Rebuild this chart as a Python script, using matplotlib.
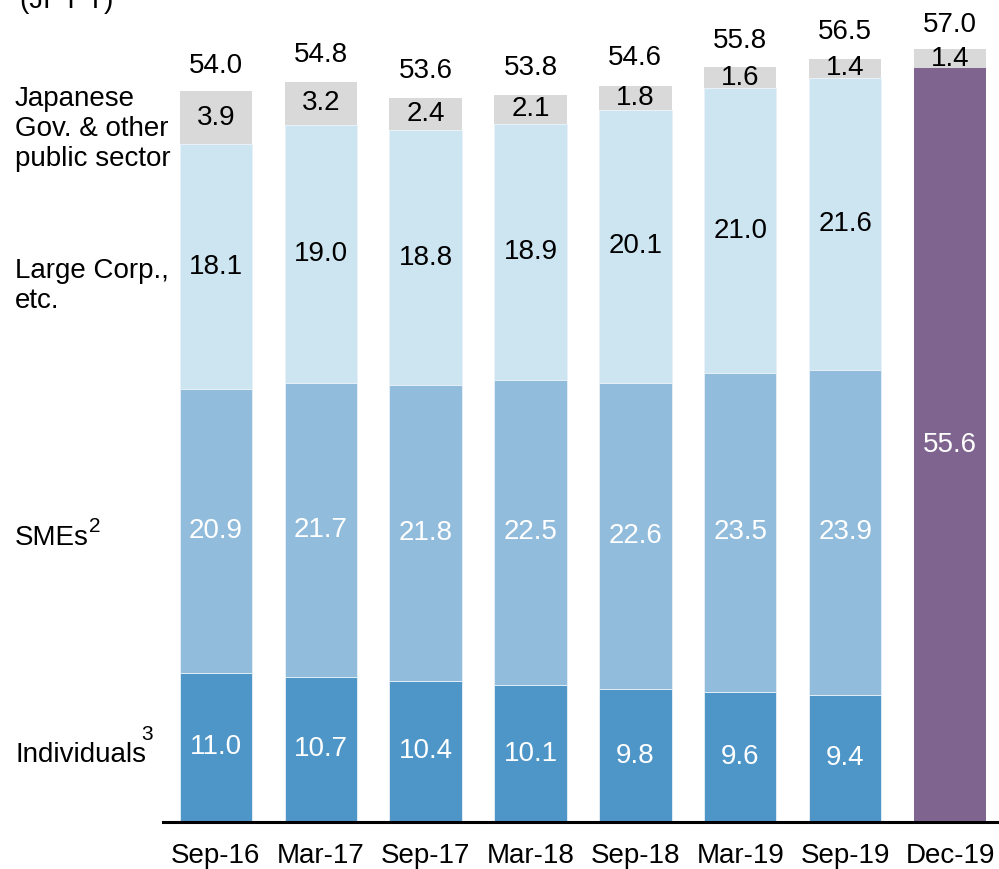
import numpy as np
import matplotlib.pyplot as plt

plt.rcParams['font.family'] = ['Liberation Sans', 'DejaVu Sans']

periods = ['Sep-16', 'Mar-17', 'Sep-17', 'Mar-18', 'Sep-18', 'Mar-19', 'Sep-19', 'Dec-19']
individuals = [11.0, 10.7, 10.4, 10.1, 9.8, 9.6, 9.4]
smes = [20.9, 21.7, 21.8, 22.5, 22.6, 23.5, 23.9]
large_corp = [18.1, 19.0, 18.8, 18.9, 20.1, 21.0, 21.6]
gov = [3.9, 3.2, 2.4, 2.1, 1.8, 1.6, 1.4]
totals = [54.0, 54.8, 53.6, 53.8, 54.6, 55.8, 56.5, 57.0]
dec19_main = 55.6
dec19_gov = 1.4

c_ind = '#4f96c8'
c_sme = '#92bcdb'
c_lc = '#cde4f1'
c_gov = '#d9d9d9'
c_dec = '#7f648f'
fs = 20

fig = plt.figure(figsize=(9.99, 8.69), dpi=100)
ax = fig.add_axes([0.163, 1 - 822 / 869, 0.837, 822 / 869])

x = np.arange(len(individuals))
w = 0.69
ind = np.array(individuals)
sme = np.array(smes)
lc = np.array(large_corp)
gv = np.array(gov)

ec = dict(edgecolor='#e8f1f8', linewidth=0.6)
ax.bar(x, ind, w, color=c_ind, **ec)
ax.bar(x, sme, w, bottom=ind, color=c_sme, **ec)
ax.bar(x, lc, w, bottom=ind + sme, color=c_lc, **ec)
ax.bar(x, gv, w, bottom=ind + sme + lc, color=c_gov, linewidth=0)

xd = len(individuals)
ax.bar(xd, dec19_main, w, color=c_dec, linewidth=0)
ax.bar(xd, dec19_gov, w, bottom=dec19_main, color=c_gov, linewidth=0)

for i in range(len(individuals)):
    ax.text(x[i], ind[i] / 2, f'{ind[i]:.1f}', ha='center', va='center', color='white', fontsize=fs)
    ax.text(x[i], ind[i] + sme[i] / 2, f'{sme[i]:.1f}', ha='center', va='center', color='white', fontsize=fs)
    ax.text(x[i], ind[i] + sme[i] + lc[i] / 2, f'{lc[i]:.1f}', ha='center', va='center', color='black', fontsize=fs)
    ax.text(x[i], ind[i] + sme[i] + lc[i] + gv[i] / 2, f'{gv[i]:.1f}', ha='center', va='center', color='black', fontsize=fs)
ax.text(xd, dec19_main / 2, f'{dec19_main:.1f}', ha='center', va='center', color='white', fontsize=fs)
ax.text(xd, dec19_main + dec19_gov / 2, f'{dec19_gov:.1f}', ha='center', va='center', color='black', fontsize=fs)

for i, t in enumerate(totals):
    ax.annotate(f'{t:.1f}', (i, t), xytext=(0, 8), textcoords='offset points',
                ha='center', va='bottom', fontsize=fs)

ax.set_xlim(-0.505, 7.467)
ax.set_ylim(0, 822 / 13.56)
ax.set_xticks(np.arange(len(periods)))
ax.set_xticklabels(periods, fontsize=fs)
ax.tick_params(axis='x', length=0, pad=15)
ax.set_yticks([])
for s in ['left', 'right', 'top']:
    ax.spines[s].set_visible(False)
ax.spines['bottom'].set_linewidth(2.2)
ax.patch.set_alpha(0)

# row labels on the left (figure pixel positions)
def lab(xpix, ypix, s, size=fs):
    fig.text(xpix / 999, 1 - ypix / 869, s, ha='left', va='center', fontsize=size, linespacing=1.2)

lab(15, 129, 'Japanese\nGov. & other\npublic sector')
lab(15, 286, 'Large Corp.,\netc.')
lab(15, 538, 'SMEs')
lab(89, 527, '2', 15)
lab(141, 735, '3', 15)
lab(15, 755, 'Individuals')

fig.text(20 / 999, 1 - 8 / 869, '(JPY T)', ha='left', va='baseline', fontsize=fs)

fig.savefig('out.png', dpi=100)
